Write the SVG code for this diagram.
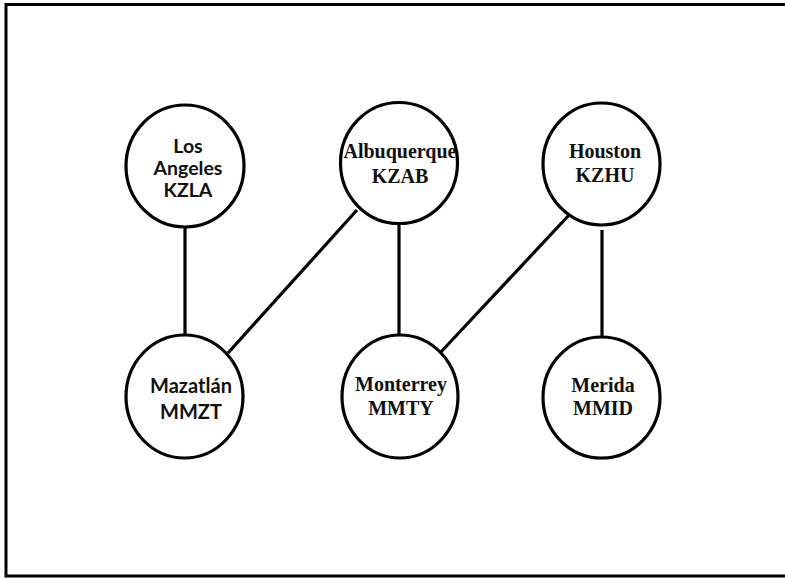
<svg xmlns="http://www.w3.org/2000/svg" width="785" height="578" viewBox="0 0 785 578">
<style>
.node{fill:#fff;stroke:#000;stroke-width:3.2}
.edge{stroke:#000;stroke-width:3.2;fill:none}
.sans{font-family:Lato,"Liberation Sans",sans-serif;font-weight:bold;font-size:19.5px;fill:#111;text-anchor:middle}
.big{font-size:20px}
.serif{font-family:"Liberation Serif","Times New Roman",serif;font-weight:bold;font-size:20px;fill:#111;text-anchor:middle}
</style>
<rect x="0" y="0" width="785" height="578" fill="#fff"/>
<rect x="6" y="4.5" width="790" height="571.5" fill="none" stroke="#000" stroke-width="3"/>
<g id="connectors">
<line class="edge" x1="185" y1="227" x2="185" y2="336"/>
<line class="edge" x1="357" y1="210" x2="228" y2="353"/>
<line class="edge" x1="399" y1="223" x2="399" y2="336"/>
<line class="edge" x1="570" y1="214" x2="440" y2="353"/>
<line class="edge" x1="602" y1="230" x2="602" y2="338"/>
</g>
<g id="n-kzla">
<ellipse class="node" cx="185" cy="166" rx="59" ry="61"/>
<text class="sans" x="188" y="153">Los</text>
<text class="sans" x="188" y="175">Angeles</text>
<text class="sans" x="188" y="197">KZLA</text>
</g>
<g id="n-kzab">
<ellipse class="node" cx="399" cy="163" rx="58.5" ry="60.5"/>
<text class="serif" x="400" y="158">Albuquerque</text>
<text class="serif" x="400" y="183">KZAB</text>
</g>
<g id="n-kzhu">
<ellipse class="node" cx="601.5" cy="164" rx="58.5" ry="61"/>
<text class="serif" x="605" y="158">Houston</text>
<text class="serif" x="605" y="182">KZHU</text>
</g>
<g id="n-mmzt">
<ellipse class="node" cx="184.5" cy="396.5" rx="58.5" ry="61.5"/>
<text class="sans big" x="191" y="393">Mazatlán</text>
<text class="sans big" x="191" y="419">MMZT</text>
</g>
<g id="n-mmty">
<ellipse class="node" cx="400" cy="396.5" rx="58" ry="61.5"/>
<text class="serif" x="401" y="391">Monterrey</text>
<text class="serif" x="401" y="415">MMTY</text>
</g>
<g id="n-mmid">
<ellipse class="node" cx="601.5" cy="397.5" rx="58.5" ry="60.5"/>
<text class="serif" x="603" y="392">Merida</text>
<text class="serif" x="603" y="415">MMID</text>
</g>
</svg>
